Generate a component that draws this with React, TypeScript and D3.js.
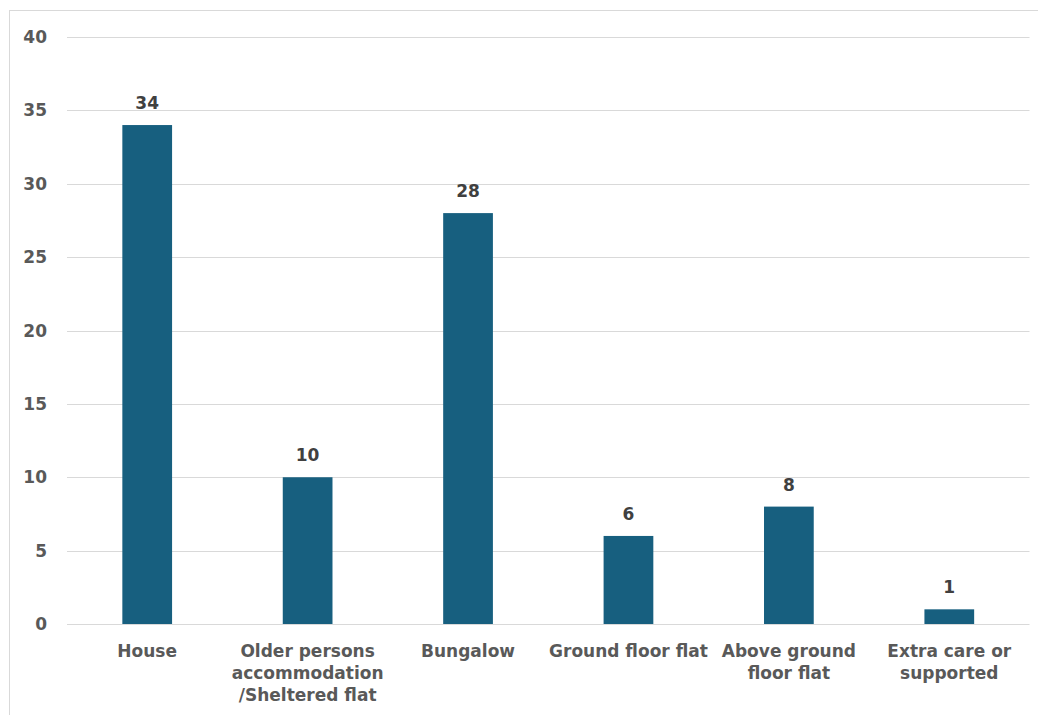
import React, { useEffect, useRef } from "react";
import * as d3 from "d3";

const categories: string[][] = [
  ["House"],
  ["Older persons", "accommodation", "/Sheltered flat"],
  ["Bungalow"],
  ["Ground floor flat"],
  ["Above ground", "floor flat"],
  ["Extra care or", "supported"],
];
const values: number[] = [34, 10, 28, 6, 8, 1];
const yTicks: number[] = [0, 5, 10, 15, 20, 25, 30, 35, 40];

const W = 1038;
const H = 707;
const FONT = "'DejaVu Sans', Verdana, sans-serif";

export default function App() {
  const ref = useRef<SVGSVGElement>(null);
  useEffect(() => {
    const svg = d3.select(ref.current);
    svg.selectAll("*").remove();
    const left = 59, right = 1021.5, top = 29, bottom = 616;
    const x = d3.scaleBand<number>().domain(d3.range(values.length)).range([left, right]).paddingInner(0.69).paddingOuter(0.345);
    const y = d3.scaleLinear().domain([0, 40]).range([bottom, top]);

    svg.append("rect").attr("x", 1.5).attr("y", 2.5).attr("width", 1060).attr("height", 740)
      .attr("fill", "#fff").attr("stroke", "#d9d9d9").attr("stroke-width", 1);

    const g = svg.append("g");
    g.selectAll("line.grid").data(yTicks).join("line")
      .attr("x1", left).attr("x2", right)
      .attr("y1", (d) => Math.round(y(d)) + 0.5).attr("y2", (d) => Math.round(y(d)) + 0.5)
      .attr("stroke", "#d9d9d9").attr("stroke-width", 1);

    g.selectAll("text.ytick").data(yTicks).join("text")
      .attr("x", 39).attr("y", (d) => y(d)).attr("dy", "0.36em")
      .attr("text-anchor", "end").attr("font-family", FONT).attr("font-weight", "bold")
      .attr("font-size", 17).attr("fill", "#595959").text((d) => String(d));

    g.selectAll("rect.bar").data(values).join("rect")
      .attr("x", (_, i) => x(i)!).attr("width", x.bandwidth())
      .attr("y", (d) => y(d)).attr("height", (d) => bottom - y(d))
      .attr("fill", "#175f7f");

    g.selectAll("text.val").data(values).join("text")
      .attr("x", (_, i) => x(i)! + x.bandwidth() / 2).attr("y", (d) => y(d) - 22).attr("dy", "0.36em")
      .attr("text-anchor", "middle").attr("font-family", FONT).attr("font-weight", "bold")
      .attr("font-size", 17).attr("fill", "#404040").text((d) => String(d));

    categories.forEach((lines, i) => {
      const t = g.append("text").attr("text-anchor", "middle").attr("font-family", FONT)
        .attr("font-weight", "bold").attr("font-size", 17).attr("fill", "#595959");
      lines.forEach((ln, j) => {
        t.append("tspan").attr("x", x(i)! + x.bandwidth() / 2).attr("y", bottom + 27 + j * 22).attr("dy", "0.36em").text(ln);
      });
    });
  }, []);
  return <svg ref={ref} width={W} height={H} style={{ display: "block" }} />;
}
